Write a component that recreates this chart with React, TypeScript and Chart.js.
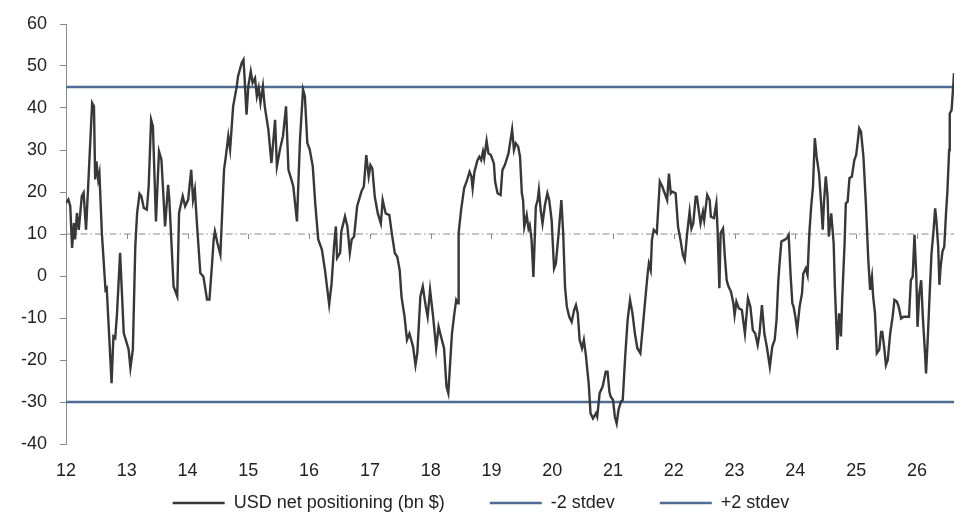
import { useEffect, useRef } from "react";
import { Chart, registerables } from "chart.js";

Chart.register(...registerables);

// dates as decimal years (12 = 2012)
const yearX = [
  12.0, 12.04, 12.07, 12.1, 12.13, 12.15, 12.18, 12.21, 12.26, 12.29, 12.33, 12.37, 12.43, 12.46, 12.48, 12.5,
  12.53, 12.55, 12.59, 12.65, 12.67, 12.75, 12.78, 12.81, 12.84, 12.89, 12.95, 13.0, 13.03, 13.06, 13.1, 13.14,
  13.17, 13.21, 13.24, 13.28, 13.33, 13.36, 13.4, 13.43, 13.48, 13.53, 13.57, 13.63, 13.68, 13.7, 13.77, 13.83,
  13.86, 13.92, 13.96, 14.01, 14.06, 14.09, 14.12, 14.15, 14.21, 14.26, 14.32, 14.36, 14.4, 14.43,
  14.45, 14.49, 14.54, 14.6, 14.63, 14.67, 14.7, 14.75, 14.81, 14.83, 14.89, 14.92, 14.94, 14.97, 15.0, 15.04,
  15.07, 15.11, 15.14, 15.17, 15.2, 15.24, 15.27, 15.33, 15.38, 15.44, 15.47, 15.52, 15.57, 15.62, 15.66, 15.71,
  15.74, 15.8, 15.85, 15.9, 15.93, 15.97, 16.01, 16.06, 16.1, 16.15, 16.21, 16.26, 16.33, 16.37, 16.41, 16.44,
  16.46, 16.51, 16.53, 16.59, 16.63, 16.67, 16.7, 16.74, 16.79,
  16.86, 16.9, 16.94, 16.98, 17.01, 17.04, 17.08, 17.13, 17.18, 17.21, 17.26, 17.32, 17.36, 17.41, 17.45, 17.49,
  17.52, 17.57, 17.61, 17.65, 17.71, 17.75, 17.78, 17.83, 17.87, 17.92, 17.95, 17.99, 18.04, 18.09, 18.13, 18.17,
  18.22, 18.26, 18.29, 18.35, 18.39, 18.42, 18.45, 18.46, 18.5, 18.55, 18.6, 18.64, 18.67, 18.69, 18.72, 18.77,
  18.8, 18.83, 18.86, 18.88, 18.92, 18.95, 18.99, 19.04, 19.06, 19.1, 19.15, 19.18, 19.22,
  19.28, 19.34, 19.37, 19.4, 19.44, 19.47, 19.5, 19.52, 19.54, 19.58, 19.61, 19.63, 19.66, 19.69, 19.73, 19.76,
  19.78, 19.81, 19.84, 19.88, 19.92, 19.95, 19.99, 20.03, 20.06, 20.1, 20.15, 20.18, 20.21, 20.24, 20.28, 20.32,
  20.36, 20.39, 20.42, 20.45, 20.49, 20.52, 20.55, 20.6, 20.63, 20.67, 20.72, 20.74, 20.78, 20.83, 20.88, 20.91,
  20.94, 20.96, 21.0, 21.03, 21.06, 21.09, 21.13, 21.16, 21.2, 21.24, 21.28, 21.32, 21.36, 21.4, 21.45, 21.49,
  21.53, 21.57, 21.59, 21.62, 21.64, 21.67,
  21.72, 21.77, 21.81, 21.85, 21.89, 21.92, 21.95, 21.97, 22.03, 22.07, 22.11, 22.15, 22.18, 22.22, 22.26, 22.29,
  22.32, 22.36, 22.38, 22.41, 22.44, 22.48, 22.5, 22.55, 22.59, 22.61, 22.66, 22.7, 22.72, 22.75, 22.77, 22.81,
  22.84, 22.87, 22.9, 22.94, 22.98, 23.0, 23.03, 23.07, 23.12, 23.17, 23.22, 23.26, 23.3, 23.34, 23.38, 23.41,
  23.45, 23.49, 23.53, 23.58, 23.62, 23.66, 23.69, 23.72, 23.74, 23.77, 23.82, 23.86, 23.89, 23.92, 23.95, 23.97,
  24.0, 24.03, 24.07,
  24.11, 24.13, 24.17, 24.2, 24.23, 24.26, 24.29, 24.32, 24.35, 24.39, 24.42, 24.45, 24.47, 24.5, 24.53, 24.55,
  24.59, 24.63, 24.65, 24.69, 24.72, 24.75, 24.77, 24.81, 24.83, 24.86, 24.89, 24.93, 24.97, 25.0, 25.03, 25.05,
  25.08, 25.12, 25.16, 25.2, 25.23, 25.26, 25.28, 25.31, 25.34, 25.38, 25.41, 25.43, 25.46, 25.49, 25.52, 25.56,
  25.6, 25.63, 25.67, 25.7, 25.74, 25.78, 25.83, 25.87, 25.9, 25.93, 25.96, 25.99, 26.01, 26.04, 26.07, 26.1,
  26.13, 26.15, 26.18, 26.21, 26.24, 26.27, 26.3, 26.32, 26.35, 26.37, 26.39, 26.42, 26.45, 26.48, 26.5, 26.53,
  26.54, 26.57, 26.58, 26.6, 26.61,
];

// USD net positioning (bn $)
const netPos = [
  17.4, 18.2, 16.6, 6.7, 12.6, 8.7, 15.0, 11.0, 19.0, 19.8, 11.0, 23.0, 41.2, 40.4, 23.0, 27.3,
  23.0, 24.5, 10.2, -3.3, -2.9, -25.5, -14.4, -14.8, -8.8, 5.5, -13.6, -16.0, -17.5, -21.9, -17.5, 7.0,
  15.0, 19.6, 19.0, 16.2, 15.8, 21.3, 37.2, 35.6, 13.0, 29.7, 27.7, 11.8, 21.7, 18.2, -2.5, -4.8,
  15.0, 19.0, 16.6, 18.2, 25.3, 18.2, 20.6, 13.4, 0.7, -0.1, -5.6, -5.6, 2.3, 8.7,
  10.6, 7.9, 5.1, 25.3, 28.5, 33.3, 30.1, 40.4, 45.2, 47.5, 50.7, 51.5, 46.7, 38.4, 45.2, 48.7,
  46.0, 47.1, 42.8, 44.8, 41.2, 45.2, 40.4, 34.8, 26.9, 37.2, 26.1, 30.1, 33.3, 40.4, 25.3, 22.9,
  21.3, 13.0, 32.5, 44.4, 42.8, 31.7, 30.1, 26.1, 17.4, 8.7, 6.3, 1.5, -6.8, -1.7, 7.1, 11.8,
  4.3, 5.5, 10.6, 14.2, 11.8, 5.5, 8.7, 9.4, 16.6,
  20.1, 21.3, 28.8, 23.7, 26.4, 25.6, 18.9, 14.9, 12.5, 18.1, 14.9, 14.5, 10.2, 5.4, 4.6, 1.4,
  -4.9, -9.7, -15.2, -13.7, -16.8, -21.2, -18.4, -4.9, -2.5, -7.3, -9.7, -3.3, -9.7, -17.2, -12.1, -14.4,
  -17.2, -26.3, -27.9, -13.7, -8.9, -5.7, -6.5, 10.2, 15.7, 20.9, 22.9, 24.8, 23.7, 20.9, 24.8, 27.6,
  28.4, 27.6, 29.6, 28.0, 32.2, 29.2, 28.8, 26.8, 22.5, 19.7, 19.3, 25.2, 26.4,
  29.2, 34.9, 30.0, 31.6, 30.8, 28.4, 19.7, 18.1, 11.7, 14.5, 11.3, 12.1, 8.6, -0.2, 16.5, 18.1,
  20.5, 15.7, 12.5, 16.9, 19.7, 18.1, 13.3, 1.8, 3.0, 9.4, 18.1, 10.2, -2.5, -7.3, -9.7, -10.9,
  -8.1, -6.9, -8.9, -15.2, -17.2, -15.2, -18.4, -25.6, -32.7, -33.9, -32.7, -33.5, -27.9, -26.3, -22.8, -22.8,
  -27.5, -28.7, -29.5, -33.5, -35.1, -31.9, -29.9, -29.5, -19.2, -10.5, -5.7, -8.9, -13.7, -17.2, -18.4, -12.1,
  -5.7, 0.6, 3.0, 1.4, 8.6, 11.0,
  10.2, 22.5, 21.3, 19.7, 18.1, 24.4, 19.7, 20.1, 19.7, 11.7, 8.6, 5.0, 3.8, 10.2, 15.3, 11.3,
  12.5, 18.9, 18.9, 15.7, 12.5, 15.3, 13.3, 19.3, 18.1, 14.1, 13.8, 17.3, 11.0, -2.9, 10.2, 11.3,
  4.6, -1.0, -2.5, -3.7, -6.5, -9.3, -6.1, -7.7, -8.1, -13.7, -5.3, -7.3, -12.9, -13.7, -16.4, -13.7,
  -6.9, -13.7, -16.8, -21.6, -16.8, -15.2, -10.5, -1.0, 3.0, 8.2, 8.6, 9.0, 9.8, 0.6, -6.5, -7.3,
  -9.7, -12.9, -7.3,
  -4.1, 0.6, 1.8, 0.2, 10.2, 16.5, 21.3, 32.8, 28.4, 24.4, 18.1, 11.0, 17.3, 23.7, 18.9, 9.4,
  14.9, 7.8, -2.5, -17.6, -8.9, -14.4, -5.7, 7.8, 17.3, 17.7, 23.3, 23.7, 27.6, 28.8, 32.4, 35.2,
  34.4, 28.4, 17.3, 3.8, -3.3, -0.2, -4.9, -8.9, -18.4, -17.6, -13.3, -13.3, -16.8, -21.2, -20.0, -13.7,
  -9.7, -5.7, -6.1, -7.3, -10.1, -9.7, -9.7, -9.7, -1.0, -0.2, 9.8, -0.2, -12.1, -4.1, -1.0, -10.5,
  -17.6, -23.2, -14.4, -4.1, 5.4, 10.2, 16.1, 13.3, 7.0, -2.1, 2.2, 5.8, 7.0, 15.3, 19.7, 30.0,
  38.7, 39.5, 41.5, 45.9, 48.3,
];

// flat reference lines
const bandX = [12, 26.61];
const minus2 = [-30, -30];
const plus2 = [45, 45];
const meanLine = [10, 10];

const FONT = "'Liberation Sans', Arial, sans-serif";
const LINE_GREY = "#383838";
const BAND_BLUE = "#4e6b94";

// small ticks on the dash-dot mean line (the x axis crosses there)
const meanTicks = {
  id: "meanTicks",
  beforeDatasetsDraw(chart: any) {
    const { ctx, scales } = chart;
    const y0 = scales.y.getPixelForValue(meanLine[0]);
    ctx.save();
    ctx.strokeStyle = "#8a8a8a";
    ctx.lineWidth = 1;
    ctx.beginPath();
    for (const t of scales.x.ticks) {
      if (t.value <= scales.x.min) continue;
      const px = Math.round(scales.x.getPixelForValue(t.value)) + 0.5;
      ctx.moveTo(px, y0);
      ctx.lineTo(px, y0 + 5);
    }
    ctx.stroke();
    ctx.restore();
  },
};

// keep the wide legend spacing without letting the legend eat the plot height
const legendFit = {
  id: "legendFit",
  beforeInit(chart: any) {
    const fit = chart.legend.fit;
    chart.legend.fit = function () {
      fit.call(this);
      this.height = 37;
    };
  },
  beforeDraw(chart: any) {
    const lg = chart.legend;
    lg.top = chart.height - 72;
    lg.bottom = chart.height;
  },
};

export default function App() {
  const canvasRef = useRef<HTMLCanvasElement>(null);
  const chartRef = useRef<Chart | null>(null);

  useEffect(() => {
    if (!canvasRef.current) return;
    if (chartRef.current) chartRef.current.destroy();

    const band = (vals: number[]) => bandX.map((x, i) => ({ x, y: vals[i] }));

    chartRef.current = new Chart(canvasRef.current, {
      type: "line",
      data: {
        datasets: [
          {
            label: "USD net positioning (bn $)",
            data: yearX.map((x, i) => ({ x, y: netPos[i] })),
            borderColor: LINE_GREY,
            backgroundColor: LINE_GREY,
            borderWidth: 2.4,
            pointRadius: 0,
            tension: 0,
          },
          {
            label: "-2 stdev",
            data: band(minus2),
            borderColor: BAND_BLUE,
            backgroundColor: BAND_BLUE,
            borderWidth: 2.6,
            pointRadius: 0,
          },
          {
            label: "+2 stdev",
            data: band(plus2),
            borderColor: BAND_BLUE,
            backgroundColor: BAND_BLUE,
            borderWidth: 2.6,
            pointRadius: 0,
          },
          {
            label: "mean",
            data: band(meanLine),
            borderColor: "#8a8a8a",
            borderWidth: 1,
            borderDash: [7, 3, 1.5, 3],
            pointRadius: 0,
          },
        ],
      },
      options: {
        animation: false,
        responsive: true,
        maintainAspectRatio: false,
        layout: { padding: { top: 16, right: 14, left: 0, bottom: 0 } },
        plugins: {
          tooltip: { enabled: false },
          legend: {
            position: "bottom",
            labels: {
              filter: (item: any) => item.datasetIndex < 3,
              usePointStyle: true,
              pointStyle: "line",
              pointStyleWidth: 52,
              padding: 45,
              color: "#222",
              font: { family: FONT, size: 18 },
            },
          },
        },
        scales: {
          x: {
            type: "linear",
            min: 12,
            max: 26.61,
            grid: { display: false, drawTicks: false },
            border: { display: false },
            afterFit: (s: any) => {
              s.height = 40;
            },
            ticks: {
              stepSize: 1,
              includeBounds: false,
              autoSkip: false,
              maxRotation: 0,
              padding: 16,
              color: "#222",
              font: { family: FONT, size: 18 },
              callback: (v: any) => String(v),
            },
          },
          y: {
            min: -40,
            max: 60,
            afterFit: (s: any) => {
              s.width = 58;
              s.paddingTop = 0;
              s.paddingBottom = 0;
            },
            grid: { drawOnChartArea: false, drawTicks: true, tickLength: 6, color: "#8a8a8a" },
            border: { display: true, color: "#8a8a8a", width: 1 },
            ticks: {
              stepSize: 10,
              padding: 13,
              color: "#222",
              font: { family: FONT, size: 18 },
            },
          },
        },
      },
      plugins: [meanTicks, legendFit],
    });

    return () => {
      chartRef.current?.destroy();
      chartRef.current = null;
    };
  }, []);

  return (
    <div style={{ width: 960, height: 513, position: "relative" }}>
      <canvas ref={canvasRef} />
    </div>
  );
}
